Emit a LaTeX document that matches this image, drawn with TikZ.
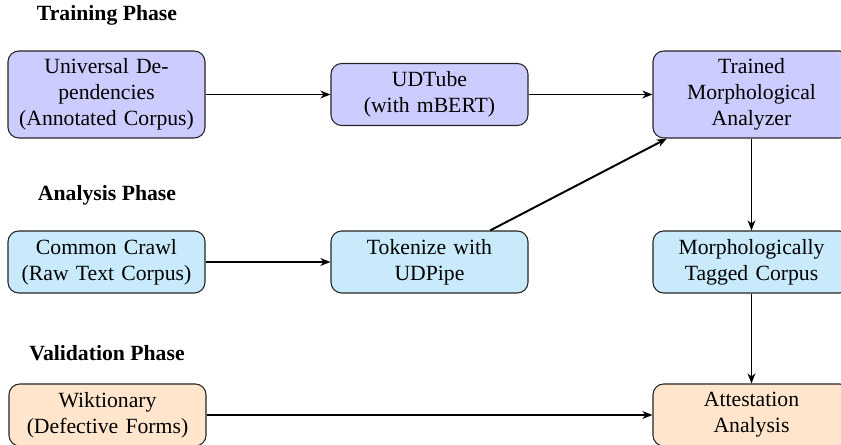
\documentclass[tikz,border=0pt]{standalone}
\usepackage{fontspec}
\setmainfont{Liberation Serif}
\usetikzlibrary{arrows.meta}
\definecolor{trainfill}{RGB}{204,204,255}
\definecolor{analysisfill}{RGB}{200,234,250}
\definecolor{validfill}{RGB}{255,229,204}
\tikzset{
  stagebox/.style={draw=black!85, line width=0.5pt, rounded corners=5pt, align=center,
    minimum width=90.8pt, text width=84pt, inner sep=3.3pt, font=\normalsize},
  tallbox/.style={stagebox, minimum height=40.1pt},
  lowbox/.style={stagebox, minimum height=28.6pt},
  phasetitle/.style={font=\bfseries, inner sep=0pt},
  flow/.style={line width=0.9pt, -{Stealth[length=4.6pt, width=3.6pt, inset=1.4pt]}}
}
\begin{document}
\begin{tikzpicture}[x=0.4608pt, y=-0.4608pt]
\path[use as bounding box, clip] (0,0) rectangle (841,445);

\node[phasetitle] (t1) at (107,15) {Training Phase};
\node[phasetitle] (t2) at (107,195) {Analysis Phase};
\node[phasetitle] (t3) at (107,353) {Validation Phase};

\node[tallbox, fill=trainfill] (ud) at (106.5,94.5) {Universal De-\\pendencies\\(Annotated Corpus)};
\node[lowbox, fill=trainfill] (udt) at (429.5,94.5) {UDTube\\(with mBERT)};
\node[tallbox, fill=trainfill] (tma) at (751.5,94.5) {Trained\\Morphological\\Analyzer};

\node[lowbox, fill=analysisfill] (cc) at (106.5,262) {Common Crawl\\(Raw Text Corpus)};
\node[lowbox, fill=analysisfill] (tok) at (429.5,262) {Tokenize with\\UDPipe};
\node[lowbox, fill=analysisfill] (mtc) at (751.5,262) {Morphologically\\Tagged Corpus};

\node[lowbox, fill=validfill] (wik) at (107.5,415) {Wiktionary\\(Defective Forms)};
\node[lowbox, fill=validfill] (att) at (751.5,415) {Attestation\\Analysis};

\draw[flow] (ud) -- (udt);
\draw[flow] (udt) -- (tma);
\draw[flow] (cc) -- (tok);
\draw[flow] (tok) -- (tma);
\draw[flow] (tma) -- (mtc);
\draw[flow] (mtc) -- (att);
\draw[flow] (wik) -- (att);
\end{tikzpicture}
\end{document}
